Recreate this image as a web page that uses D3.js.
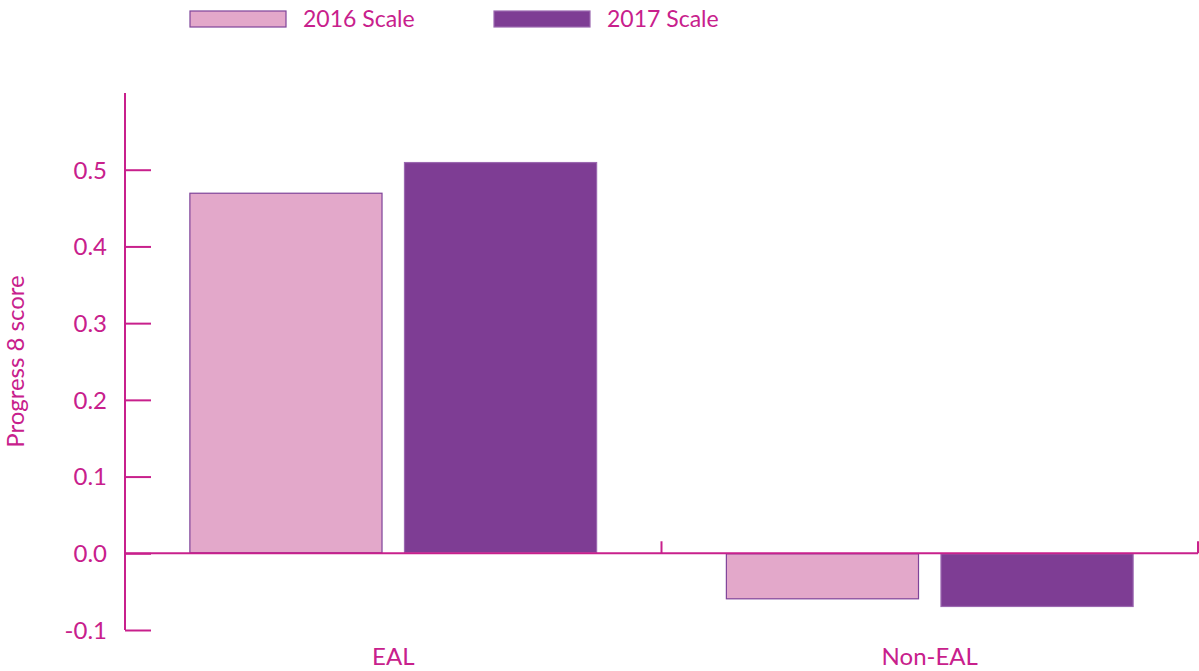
<!DOCTYPE html>
<html>
<head>
<meta charset="utf-8">
<script src="https://cdn.jsdelivr.net/npm/d3@7"></script>
<style>
  html, body { margin: 0; padding: 0; background: #fff; }
  svg { display: block; }
  text { font-family: Lato, "Open Sans", sans-serif; fill: #C8208C; }
</style>
</head>
<body>
<svg id="chart" width="1199" height="671"></svg>
<script>
// Progress 8 scores by EAL status, 2016 vs 2017 scale
const categories = ["EAL", "Non-EAL"];
const seriesNames = ["2016 Scale", "2017 Scale"];
const scale2016 = [0.47, -0.06];
const scale2017 = [0.51, -0.07];
const yTicks = [-0.1, 0.0, 0.1, 0.2, 0.3, 0.4, 0.5];

const accent = "#C8208C";
const fills = ["#E3A8CA", "#7E3D94"];
const strokes = ["#7F4499", "#9B68B0"];

const svg = d3.select("#chart");
const margin = { left: 125, right: 1, top: 93, bottom: 41 };
const W = 1199, H = 671;

const x = d3.scaleBand()
  .domain(categories)
  .range([margin.left, W - margin.right])
  .paddingInner(0).paddingOuter(0);

const x1 = d3.scaleBand()
  .domain(seriesNames)
  .range([0, x.bandwidth()])
  .paddingOuter(0.3).paddingInner(0.1);

const y = d3.scaleLinear()
  .domain([-0.1, 0.6])
  .range([H - margin.bottom, margin.top]);

const rows = categories.map((c, i) => ({
  cat: c,
  vals: [scale2016[i], scale2017[i]]
}));

// bars
const groups = svg.append("g").selectAll("g")
  .data(rows).join("g")
  .attr("transform", d => `translate(${x(d.cat)},0)`);

groups.selectAll("rect")
  .data(d => d.vals.map((v, k) => ({ v, k })))
  .join("rect")
  .attr("x", d => x1(seriesNames[d.k]) + 0.5)
  .attr("width", x1.bandwidth() - 1)
  .attr("y", d => Math.min(y(d.v), y(0)) + 0.5)
  .attr("height", d => Math.abs(y(d.v) - y(0)) - 1)
  .attr("fill", d => fills[d.k])
  .attr("stroke", d => strokes[d.k])
  .attr("stroke-width", 1.2);

// y axis with inward ticks; plain hyphen for negatives
const fmt = d3.format(".1f");
const yAxis = d3.axisRight(y)
  .tickValues(yTicks)
  .tickFormat(d => fmt(d).replace("\u2212", "-"))
  .tickSize(26)
  .tickSizeOuter(0);

const gy = svg.append("g")
  .attr("transform", `translate(${margin.left},0)`)
  .call(yAxis);
gy.select(".domain").attr("stroke", accent).attr("stroke-width", 2)
  .attr("d", `M0,${y(0.6)}V${y(-0.1)}`);
gy.selectAll(".tick line").attr("stroke", accent).attr("stroke-width", 2);
gy.selectAll(".tick text")
  .attr("x", -18).attr("dy", "0.35em")
  .attr("text-anchor", "end")
  .style("font-size", "24px")
  .style("fill", accent);

// x axis along zero with category dividers pointing up
const gx = svg.append("g");
gx.append("line")
  .attr("x1", margin.left).attr("x2", W - margin.right)
  .attr("y1", y(0)).attr("y2", y(0))
  .attr("stroke", accent).attr("stroke-width", 2);
gx.selectAll("line.div")
  .data(categories)
  .join("line")
  .attr("class", "div")
  .attr("x1", d => x(d) + x.bandwidth())
  .attr("x2", d => x(d) + x.bandwidth())
  .attr("y1", y(0)).attr("y2", y(0) - 12)
  .attr("stroke", accent).attr("stroke-width", 2);

gx.selectAll("text")
  .data(categories)
  .join("text")
  .attr("x", d => x(d) + x.bandwidth() / 2)
  .attr("y", 665)
  .attr("text-anchor", "middle")
  .style("font-size", "24px")
  .text(d => d);

// y axis title
svg.append("text")
  .attr("transform", `translate(24,${y(0.25)}) rotate(-90)`)
  .attr("text-anchor", "middle")
  .style("font-size", "24px")
  .text("Progress 8 score");

// legend
const legendX = [190, 494];
const legend = svg.append("g").selectAll("g")
  .data(seriesNames).join("g")
  .attr("transform", (d, i) => `translate(${legendX[i]},11)`);
legend.append("rect")
  .attr("width", 96).attr("height", 16)
  .attr("fill", (d, i) => fills[i])
  .attr("stroke", (d, i) => strokes[i])
  .attr("stroke-width", 1.2);
legend.append("text")
  .attr("x", 113).attr("y", 16)
  .style("font-size", "23px")
  .text(d => d);
</script>
</body>
</html>
